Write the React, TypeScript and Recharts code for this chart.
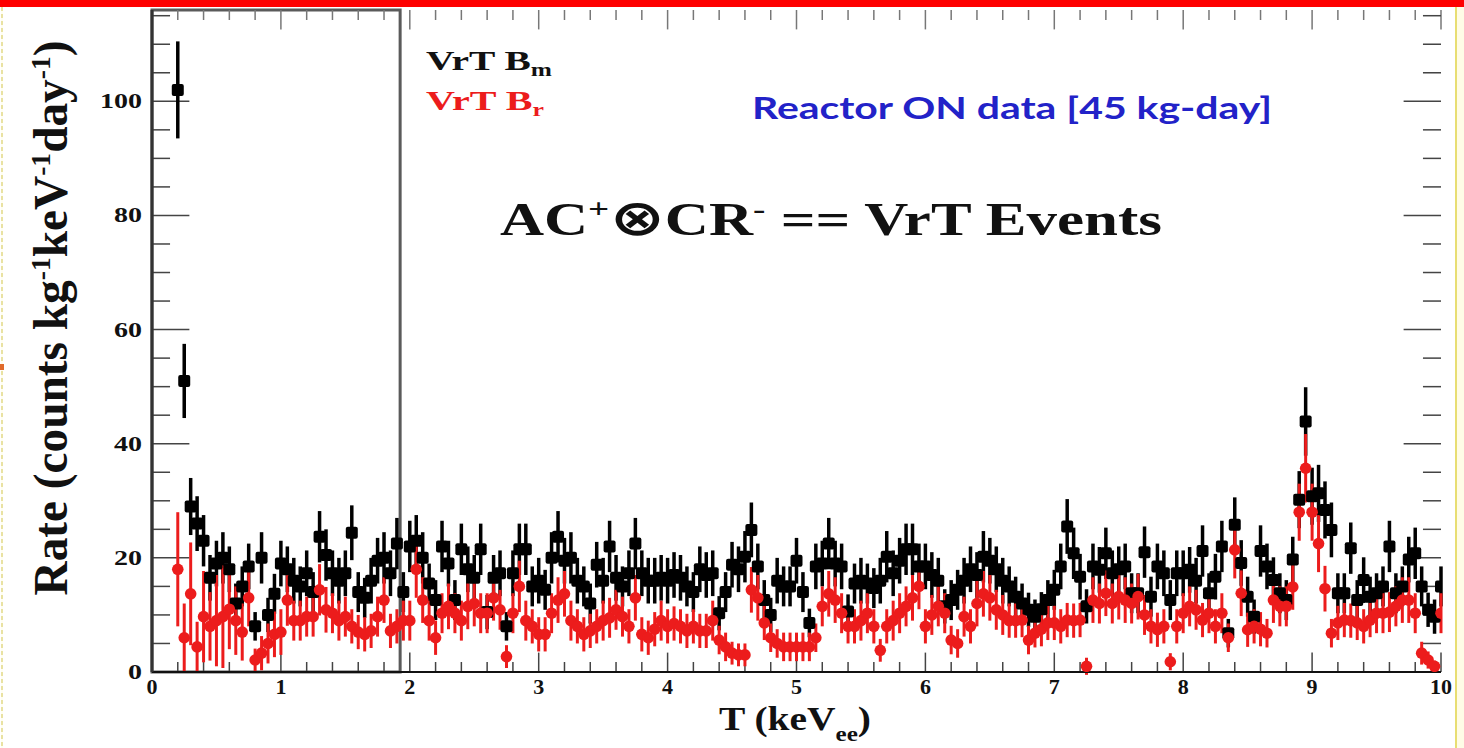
import { ErrorBar, ReferenceArea, ReferenceLine, Scatter, ScatterChart, XAxis, YAxis } from 'recharts';

// VrT B_m (black squares), rate per 0.05 keV bin, bins centred 0.20 ... 10.00 keV
const rateBm = [
  102, 51, 29, 26, 23, 16.5,
  19, 20, 18, 12, 15, 18.5, 8, 20, 10, 13.7,
  19, 18, 16, 15, 17.3, 14, 23.7, 20.5, 17.3, 16,
  17.3, 24.4, 14, 13, 16, 19.5, 20, 17.3, 22.5, 14,
  22, 23, 20, 15.5, 12.6, 22, 19, 12.6, 21.5, 18,
  16.5, 21.5, 10.5, 16.5, 17.3, 8, 17.3, 21.5, 21.5, 15,
  16, 14.4, 20, 23.7, 19.5, 20, 16, 15, 12, 18.8,
  16, 22, 16.5, 15, 17.3, 22.5, 17.3, 16, 16, 16.5,
  16, 17, 16.5, 15, 14, 18, 17, 17.3, 10.3, 14,
  18.8, 18, 20.2, 24.9, 18.5, 12.6, 10, 16, 15, 15,
  19.5, 14, 8.6, 18.5, 19, 22.5, 19, 18.5, 10.6, 15.5,
  16, 15.5, 14.7, 16, 20.2, 17.3, 19.5, 21.5, 21.5, 18.5,
  18.5, 17, 16, 11.5, 12.6, 14.4, 16, 18, 17, 20.2,
  19.5, 18, 16, 15, 13.2, 12, 10.9, 9.7, 11, 12.6,
  14.4, 18.5, 25.5, 20.8, 16.7, 11.5, 18.5, 17.9, 20.8, 17.3,
  18, 18.5, 13.8, 13.8, 21, 13.2, 18.5, 17.3, 12.6, 17.3,
  17.3, 17.9, 16, 21.2, 13.8, 16.7, 22, 6.8, 25.8, 19.1,
  13.2, 9.7, 21.2, 18.5, 16.1, 13.8, 12.6, 19.7, 30.2, 43.9,
  30.8, 31.3, 28.4, 24.9, 13.8, 13.8, 21.7, 12.6, 16.1, 13.2,
  13.8, 15, 22, 13.8, 15, 19.7, 20.8, 15, 10.9, 9.7,
  15,
];

const errBm = [
  8.5, 6.5, 5, 4.8, 4.5, 4,
  4, 4.5, 4, 3.5, 3.5, 4, 2.5, 4.5, 3, 3.5,
  4, 4, 4, 3.5, 4, 3.5, 4.5, 4.5, 4, 4,
  4, 4.8, 3.5, 3.5, 4, 4, 4.5, 4, 4.5, 3.5,
  4.5, 4.5, 4.5, 3.5, 3.5, 4.5, 4, 3.5, 4.5, 4,
  4, 4.5, 3, 4, 4, 2.5, 4, 4.5, 4.5, 3.5,
  4, 3.5, 4.5, 4.5, 4, 4.5, 4, 3.5, 3.5, 4,
  4, 4.5, 4, 3.5, 4, 4.5, 4, 4, 4, 4,
  4, 4, 4, 3.5, 3.5, 4, 4, 4, 3, 3.5,
  4, 4, 4.5, 4.8, 4, 3.5, 3, 4, 3.5, 3.5,
  4, 3.5, 2.5, 4, 4, 4.5, 4, 4, 3, 3.5,
  4, 3.5, 3.5, 4, 4.5, 4, 4, 4.5, 4.5, 4,
  4, 4, 4, 3, 3.5, 3.5, 4, 4, 4, 4.5,
  4, 4, 4, 3.5, 3.5, 3.5, 3, 3, 3, 3.5,
  3.5, 4, 4.8, 4.5, 4, 3, 4, 4, 4.5, 4,
  4, 4, 3.5, 3.5, 4.5, 3.5, 4, 4, 3.5, 4,
  4, 4, 4, 4.5, 3.5, 4, 4.5, 2.5, 4.8, 4,
  3.5, 3, 4.5, 4, 4, 3.5, 3.5, 4, 5, 6,
  5, 5, 5, 4.8, 3.5, 3.5, 4.5, 3.5, 4, 3.5,
  3.5, 3.5, 4.5, 3.5, 3.5, 4, 4.5, 3.5, 3, 3,
  3.5,
];

// VrT B_r (red circles), same bins
const rateBr = [
  18, 6, 13.7, 4.4, 9.7, 8,
  9, 9.7, 11, 9, 7, 13, 2.1, 3.3, 5, 6.6,
  7, 12.6, 9, 9, 9.7, 9.7, 14.4, 10.9, 10.3, 9,
  9.7, 8, 7, 6.6, 7.2, 9.7, 12.6, 7.2, 8, 9,
  9, 18, 12.6, 9, 6, 10.3, 11.5, 10.3, 9, 11.5,
  12, 10.3, 10.3, 13, 10.9, 2.7, 10.3, 15, 9, 8,
  6.6, 6.6, 10.3, 12.6, 13.7, 9, 8, 6.6, 7.2, 8,
  9, 9.5, 10.9, 9.7, 8, 13, 6.6, 6, 7.5, 9,
  8, 8.5, 8, 7.2, 8, 7.2, 7.2, 9, 5.6, 4.4,
  3.3, 3, 3, 14.4, 13, 8.6, 6, 5, 4.4, 4.4,
  4.4, 4.4, 4.4, 6, 11.5, 13.7, 12.6, 10.3, 8, 8,
  9, 10.3, 8, 3.8, 8, 9, 10.3, 11.5, 13, 15,
  8, 10, 11.5, 10.3, 5.6, 5, 9.7, 8, 12, 13.7,
  13, 10.9, 10, 9, 9, 9.1, 5.6, 6.8, 7.5, 8.6,
  8.6, 8, 9.1, 9, 9.1, 1, 12.6, 12, 13.8, 12,
  13.2, 12.6, 12, 13.2, 10, 8, 7.4, 8, 1.8, 8,
  10.3, 11.5, 10.9, 9.1, 10.3, 8, 10.3, 6, 21.4, 13.8,
  7.4, 8, 7.5, 6.8, 12.6, 11.5, 11.5, 14.9, 28, 35.7,
  28, 22.5, 14.6, 6.8, 8.6, 9.1, 9, 8.6, 8, 9.1,
  10.3, 10.3, 10.5, 11.5, 12.6, 12.6, 10.3, 3.3, 2.1, 1,
  10.3,
];

const errBr = [
  10, 6, 9, 4.4, 8, 6,
  8, 9, 7, 6, 5, 5, 2, 3, 3.5, 4,
  4, 4.5, 3.5, 3.5, 3.5, 3.5, 4.5, 4, 3.5, 3.5,
  3.5, 3, 3, 3, 3, 3.5, 4, 3, 3, 3.5,
  3.5, 5, 4, 3.5, 3, 3.5, 4, 3.5, 3.5, 4,
  4, 3.5, 3.5, 4, 3.5, 2, 3.5, 4.5, 3.5, 3,
  3, 3, 3.5, 4, 4, 3.5, 3, 3, 3, 3,
  3.5, 3.5, 3.5, 3.5, 3, 4, 3, 3, 3, 3.5,
  3, 3, 3, 3, 3, 3, 3, 3.5, 2.5, 2.5,
  2, 2, 2, 4, 4, 3, 2.5, 2.5, 2.5, 2.5,
  2.5, 2.5, 2.5, 2.5, 3.5, 4, 4, 3.5, 3, 3,
  3.5, 3.5, 3, 2, 3, 3.5, 3.5, 3.5, 4, 4,
  3, 3.5, 3.5, 3.5, 2.5, 2.5, 3.5, 3, 4, 4,
  4, 3.5, 3.5, 3, 3, 3, 2.5, 2.5, 3, 3,
  3, 3, 3, 3, 3, 1.5, 4, 3.5, 4, 3.5,
  4, 4, 3.5, 4, 3.5, 3, 3, 3, 1.5, 3,
  3.5, 3.5, 3.5, 3, 3.5, 3, 3.5, 2.5, 5, 4,
  3, 3, 3, 2.5, 4, 3.5, 3.5, 4, 5, 6,
  5, 5, 4, 2.5, 3, 3, 3, 3, 3, 3,
  3.5, 3.5, 3.5, 3.5, 4, 4, 3.5, 2, 1.5, 1,
  3.5,
];

// histogram bin centres (keV)
const BIN_START = 0.2;
const BIN_WIDTH = 0.05;
const energy = rateBm.map((_, i) => +(BIN_START + i * BIN_WIDTH).toFixed(2));

const xMajorTicks = [0, 1, 2, 3, 4, 5, 6, 7, 8, 9, 10];
const xTicks = Array.from({ length: 51 }, (_, i) => +(i * 0.2).toFixed(1));
const yMajorTicks = [0, 20, 40, 60, 80, 100];
const yTicks = Array.from({ length: 24 }, (_, i) => i * 5);
const lowEnergyBox = [0, 1.925];

const X_MAX = 10;
const Y_MAX = 116;
// tick lengths expressed in axis units (ROOT-style ticks pointing inward)
const X_TICK_MAJ = 0.29;
const X_TICK_MIN = 0.14;
const Y_TICK_MAJ = 3.4;
const Y_TICK_MIN = 1.75;

const SERIF = '"Liberation Serif", "Times New Roman", serif';
const RED = '#ec1c1c';
const TICK_COLOR = '#444';

const bmData = energy.map((e, i) => ({ e, rate: rateBm[i], err: errBm[i] }));
const brData = energy.map((e, i) => ({ e, rate: rateBr[i], err: errBr[i] }));

const isMajorX = (v: number) => xMajorTicks.includes(v);
const isMajorY = (v: number) => yMajorTicks.includes(v);

function BottomLabel(props: any) {
  const { x, y, payload } = props;
  return (
    <text x={x} y={y + 22} textAnchor="middle" fontFamily={SERIF} fontWeight="bold" fontSize={22} fill="#111">
      {payload.value}
    </text>
  );
}

function LeftLabel(props: any) {
  const { x, y, payload } = props;
  const v = String(payload.value);
  return (
    <text
      x={x - 10}
      y={y + 7}
      textAnchor="end"
      fontFamily={SERIF}
      fontWeight="bold"
      fontSize={22}
      fill="#111"
      textLength={v.length * 14}
      lengthAdjust="spacingAndGlyphs"
    >
      {v}
    </text>
  );
}

function BlackSquare(props: any) {
  const { cx, cy } = props;
  if (cx == null || cy == null) return null;
  return <rect x={cx - 6} y={cy - 6} width={12} height={12} rx={2} fill="#000" />;
}

function RedDot(props: any) {
  const { cx, cy } = props;
  if (cx == null || cy == null) return null;
  return <circle cx={cx} cy={cy} r={5.8} fill={RED} />;
}

export default function App() {
  return (
    <div style={{ position: 'absolute', left: 0, top: 0, width: 1464, height: 748, background: '#fff', overflow: 'hidden' }}>
      <ScatterChart width={1464} height={748} margin={{ top: 10, right: 23, bottom: 0, left: 0 }}>
        <XAxis
          type="number"
          dataKey="e"
          domain={[0, X_MAX]}
          allowDataOverflow
          ticks={xMajorTicks}
          interval={0}
          height={76}
          tickSize={0}
          tickMargin={0}
          tickLine={false}
          axisLine={{ stroke: '#111', strokeWidth: 2 }}
          tick={<BottomLabel />}
        />
        <XAxis
          xAxisId="top"
          orientation="top"
          type="number"
          dataKey="e"
          domain={[0, X_MAX]}
          allowDataOverflow
          height={0}
          tick={false}
          tickLine={false}
          axisLine={{ stroke: '#8a8a8a', strokeWidth: 2 }}
        />
        <YAxis
          type="number"
          dataKey="rate"
          domain={[0, Y_MAX]}
          allowDataOverflow
          ticks={yMajorTicks}
          interval={0}
          width={152}
          tickSize={0}
          tickMargin={0}
          tickLine={false}
          axisLine={{ stroke: '#333', strokeWidth: 3 }}
          tick={<LeftLabel />}
        />
        <YAxis
          yAxisId="right"
          orientation="right"
          type="number"
          dataKey="rate"
          domain={[0, Y_MAX]}
          allowDataOverflow
          width={0}
          tick={false}
          tickLine={false}
          axisLine={{ stroke: '#444', strokeWidth: 2 }}
        />

        {/* inward ticks on all four sides */}
        {xTicks.map((t) => {
          const len = isMajorX(t) ? Y_TICK_MAJ : Y_TICK_MIN;
          return (
            <ReferenceLine
              key={`xb${t}`}
              segment={[{ x: t, y: 0 }, { x: t, y: len }]}
              stroke={TICK_COLOR}
              strokeWidth={1.5}
            />
          );
        })}
        {xTicks.map((t) => {
          const len = isMajorX(t) ? Y_TICK_MAJ : Y_TICK_MIN;
          return (
            <ReferenceLine
              key={`xt${t}`}
              segment={[{ x: t, y: Y_MAX }, { x: t, y: Y_MAX - len }]}
              stroke="#777"
              strokeWidth={1.5}
            />
          );
        })}
        {yTicks.map((t) => {
          const len = isMajorY(t) ? X_TICK_MAJ : X_TICK_MIN;
          return (
            <ReferenceLine
              key={`yl${t}`}
              segment={[{ x: 0, y: t }, { x: len, y: t }]}
              stroke={TICK_COLOR}
              strokeWidth={1.5}
            />
          );
        })}
        {yTicks.map((t) => {
          const len = isMajorY(t) ? X_TICK_MAJ : X_TICK_MIN;
          return (
            <ReferenceLine
              key={`yr${t}`}
              segment={[{ x: X_MAX, y: t }, { x: X_MAX - len, y: t }]}
              stroke={TICK_COLOR}
              strokeWidth={1.5}
            />
          );
        })}

        <ReferenceArea
          x1={lowEnergyBox[0]}
          x2={lowEnergyBox[1]}
          y1={0}
          y2={Y_MAX}
          fill="none"
          fillOpacity={0}
          stroke="#5a5a5a"
          strokeWidth={3}
        />
        <Scatter name="VrT Bm" data={bmData} shape={<BlackSquare />} isAnimationActive={false}>
          <ErrorBar dataKey="err" direction="y" width={0} stroke="#000" strokeWidth={3.5} isAnimationActive={false} />
        </Scatter>
        <Scatter name="VrT Br" data={brData} shape={<RedDot />} isAnimationActive={false}>
          <ErrorBar dataKey="err" direction="y" width={0} stroke={RED} strokeWidth={3} isAnimationActive={false} />
        </Scatter>
      </ScatterChart>

      <svg width={1464} height={748} style={{ position: 'absolute', left: 0, top: 0, pointerEvents: 'none' }}>
        <text
          transform="translate(67,318) rotate(-90)"
          textAnchor="middle"
          fontFamily={SERIF}
          fontWeight="bold"
          fontSize={48}
          fill="#111"
          textLength={555}
          lengthAdjust="spacingAndGlyphs"
        >
          Rate (counts kg<tspan dy={-17} fontSize={28}>-1</tspan>
          <tspan dy={17}>keV</tspan>
          <tspan dy={-17} fontSize={28}>-1</tspan>
          <tspan dy={17}>day</tspan>
          <tspan dy={-17} fontSize={28}>-1</tspan>
          <tspan dy={17}>)</tspan>
        </text>

        <text x={795} y={730} textAnchor="middle" fontFamily={SERIF} fontWeight="bold" fontSize={33} fill="#111" textLength={152} lengthAdjust="spacingAndGlyphs">
          T (keV<tspan dy={11} fontSize={21}>ee</tspan>
          <tspan dy={-11}>)</tspan>
        </text>

        <text x={426} y={70} fontFamily={SERIF} fontWeight="bold" fontSize={28} fill="#111" textLength={126} lengthAdjust="spacingAndGlyphs">
          VrT B<tspan dy={6} fontSize={18}>m</tspan>
        </text>
        <text x={426} y={110} fontFamily={SERIF} fontWeight="bold" fontSize={28} fill={RED} textLength={118} lengthAdjust="spacingAndGlyphs">
          VrT B<tspan dy={6} fontSize={18}>r</tspan>
        </text>

        <text x={752} y={119} fontFamily="Lato, 'Open Sans', sans-serif" fontWeight="bold" fontSize={30} fill="#2222c8" textLength={520} lengthAdjust="spacingAndGlyphs">
          Reactor ON data [45 kg-day]
        </text>

        <text x={500} y={235} fontFamily={SERIF} fontWeight="bold" fontSize={46} fill="#111" textLength={662} lengthAdjust="spacingAndGlyphs">
          AC<tspan dy={-17} fontSize={28}>+</tspan>
          <tspan dy={17} fontFamily="'DejaVu Sans', sans-serif" fontSize={50}>⊗</tspan>
          <tspan>CR</tspan>
          <tspan dy={-17} fontSize={28}>-</tspan>
          <tspan dy={17}> == VrT Events</tspan>
        </text>
      </svg>

      <div style={{ position: 'absolute', left: 0, top: 0, width: 1464, height: 7, background: '#fe0000' }} />
      <div style={{ position: 'absolute', left: 1, top: 7, width: 2, height: 741, background: 'repeating-linear-gradient(#e9e2a2 0 4px, #fffef0 4px 7px)' }} />
      <div style={{ position: 'absolute', left: 0, top: 364, width: 4, height: 6, background: '#e06a2a' }} />
      <div style={{ position: 'absolute', left: 1455, top: 7, width: 9, height: 741, background: '#fffce6', borderLeft: '2px solid #e8de72' }} />
    </div>
  );
}
